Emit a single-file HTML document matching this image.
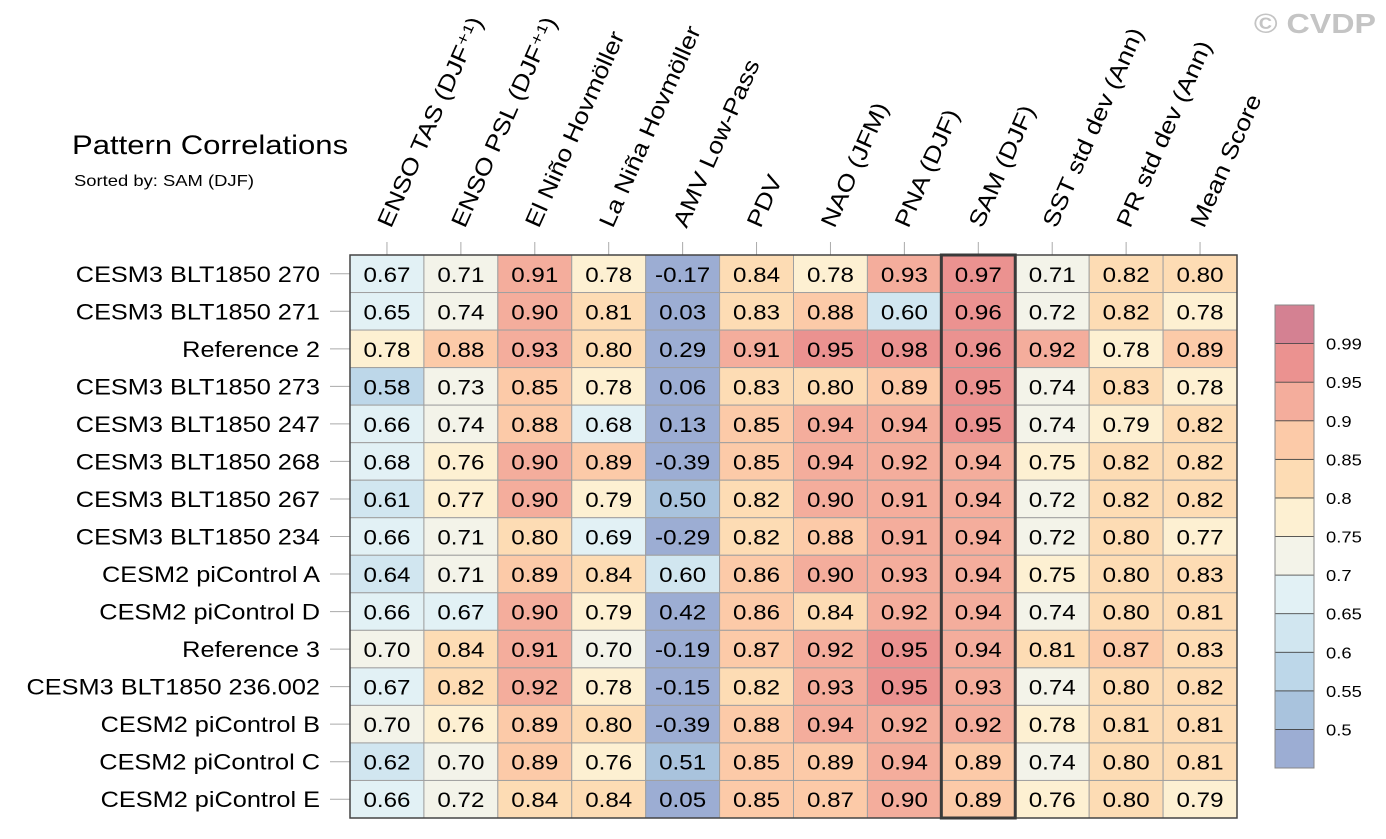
<!DOCTYPE html>
<html><head><meta charset="utf-8"><style>
html,body{margin:0;padding:0;background:#fff;}
svg{display:block;font-family:"Liberation Sans",Arial,sans-serif;}
</style></head><body>
<svg id="chart" width="1386" height="839" viewBox="0 0 1386 839" xmlns="http://www.w3.org/2000/svg">
<text class="st" x="72" y="154" font-size="27">Pattern Correlations</text>
<text class="st" x="74" y="186" font-size="16">Sorted by: SAM (DJF)</text>
<text class="st" x="1376" y="33" font-size="28" font-weight="bold" fill="#c4c4c4" text-anchor="end">© CVDP</text>
<g id="grid"></g>
<g id="cbar"></g>
</svg>
<script>
const columns=["ENSO TAS (DJF⁺¹)","ENSO PSL (DJF⁺¹)","El Niño Hovmöller","La Niña Hovmöller","AMV Low-Pass","PDV","NAO (JFM)","PNA (DJF)","SAM (DJF)","SST std dev (Ann)","PR std dev (Ann)","Mean Score"];
const rows=["CESM3 BLT1850 270","CESM3 BLT1850 271","Reference 2","CESM3 BLT1850 273","CESM3 BLT1850 247","CESM3 BLT1850 268","CESM3 BLT1850 267","CESM3 BLT1850 234","CESM2 piControl A","CESM2 piControl D","Reference 3","CESM3 BLT1850 236.002","CESM2 piControl B","CESM2 piControl C","CESM2 piControl E"];
const values=[
[0.67,0.71,0.91,0.78,-0.17,0.84,0.78,0.93,0.97,0.71,0.82,0.80],
[0.65,0.74,0.90,0.81,0.03,0.83,0.88,0.60,0.96,0.72,0.82,0.78],
[0.78,0.88,0.93,0.80,0.29,0.91,0.95,0.98,0.96,0.92,0.78,0.89],
[0.58,0.73,0.85,0.78,0.06,0.83,0.80,0.89,0.95,0.74,0.83,0.78],
[0.66,0.74,0.88,0.68,0.13,0.85,0.94,0.94,0.95,0.74,0.79,0.82],
[0.68,0.76,0.90,0.89,-0.39,0.85,0.94,0.92,0.94,0.75,0.82,0.82],
[0.61,0.77,0.90,0.79,0.50,0.82,0.90,0.91,0.94,0.72,0.82,0.82],
[0.66,0.71,0.80,0.69,-0.29,0.82,0.88,0.91,0.94,0.72,0.80,0.77],
[0.64,0.71,0.89,0.84,0.60,0.86,0.90,0.93,0.94,0.75,0.80,0.83],
[0.66,0.67,0.90,0.79,0.42,0.86,0.84,0.92,0.94,0.74,0.80,0.81],
[0.70,0.84,0.91,0.70,-0.19,0.87,0.92,0.95,0.94,0.81,0.87,0.83],
[0.67,0.82,0.92,0.78,-0.15,0.82,0.93,0.95,0.93,0.74,0.80,0.82],
[0.70,0.76,0.89,0.80,-0.39,0.88,0.94,0.92,0.92,0.78,0.81,0.81],
[0.62,0.70,0.89,0.76,0.51,0.85,0.89,0.94,0.89,0.74,0.80,0.81],
[0.66,0.72,0.84,0.84,0.05,0.85,0.87,0.90,0.89,0.76,0.80,0.79]];
const levels=[0.5,0.55,0.6,0.65,0.7,0.75,0.8,0.85,0.9,0.95,0.99];
const levelLabels=["0.5","0.55","0.6","0.65","0.7","0.75","0.8","0.85","0.9","0.95","0.99"];
const palette=["#9cadd3","#a9c3dd","#bdd7e9","#d1e6f0","#e2f1f5","#f3f3e9","#fdf0d2","#fddcb4","#fccaa8","#f4ad9c","#eb9290","#d48192"];
const sortedCol=8;

const NS="http://www.w3.org/2000/svg";
const X0=350,X1=1237,Y0=255,Y1=818;
const cw=(X1-X0)/columns.length, rh=(Y1-Y0)/rows.length;
const xPos=i=>X0+i*cw, yPos=j=>Y0+j*rh;
function colorOf(v){let k=0;while(k<levels.length&&v>=levels[k])k++;return palette[k];}
function mk(tag,attrs,parent){const e=document.createElementNS(NS,tag);for(const k in attrs)e.setAttribute(k,attrs[k]);parent.appendChild(e);return e;}
const g=document.getElementById('grid');
values.forEach((row,j)=>{row.forEach((v,i)=>{
 const r=mk('rect',{x:xPos(i),y:yPos(j),width:cw,height:rh,fill:colorOf(v),stroke:'#a0a0a0','stroke-width':1},g);
 
 
 const t=mk('text',{class:'st',x:xPos(i)+cw/2,y:yPos(j)+rh/2+8,'font-size':21,'text-anchor':'middle'},g);
 t.textContent=v.toFixed(2);
 
 
});});
rows.forEach((name,j)=>{
 const t=mk('text',{class:'st',x:320,y:yPos(j)+rh/2+8,'font-size':22,'text-anchor':'end'},g);
 t.textContent=name;
 
 
 const tk=mk('line',{x1:330,x2:350,y1:yPos(j)+rh/2,y2:yPos(j)+rh/2,stroke:'#aaa','stroke-width':1},g);
 
 
});
columns.forEach((name,i)=>{
 const cx=xPos(i)+cw/2;
 const tk=mk('line',{x1:cx,x2:cx,y1:242,y2:255,stroke:'#aaa','stroke-width':1},g);
 
 
 const t=mk('text',{class:'st',x:cx+4,y:229,'font-size':23,transform:`rotate(-66 ${cx+4} 229)`},g);
 t.textContent=name;
 
 
});
const ob=mk('rect',{x:X0,y:Y0,width:X1-X0,height:Y1-Y0,fill:'none',stroke:'#444','stroke-width':1.5},g);


const sb=mk('rect',{x:xPos(sortedCol),y:Y0,width:cw,height:Y1-Y0,fill:'none',stroke:'#3a3a3a','stroke-width':3},g);


const cb=document.getElementById('cbar');
const CB0=305,CB1=768,bh=(CB1-CB0)/palette.length;
palette.forEach((c,k)=>{
 const r=mk('rect',{x:1275,y:CB1-(k+1)*bh,width:39,height:bh,fill:c,stroke:'#444','stroke-width':0.8},cb);
 
 
});
levelLabels.forEach((l,k)=>{
 const t=mk('text',{class:'st',x:1326,y:CB1-(k+1)*bh+6,'font-size':16},cb);
 t.textContent=l;
 
 
});
const cbo=mk('rect',{x:1275,y:CB0,width:39,height:CB1-CB0,fill:'none',stroke:'#888','stroke-width':1},cb);


// horizontal stretch to mimic reference font widths
document.querySelectorAll('text.st').forEach(t=>{
 const L=t.getComputedTextLength();
 t.setAttribute('textLength',(L*1.15).toFixed(1));
 t.setAttribute('lengthAdjust','spacingAndGlyphs');
});
</script>
</body></html>
